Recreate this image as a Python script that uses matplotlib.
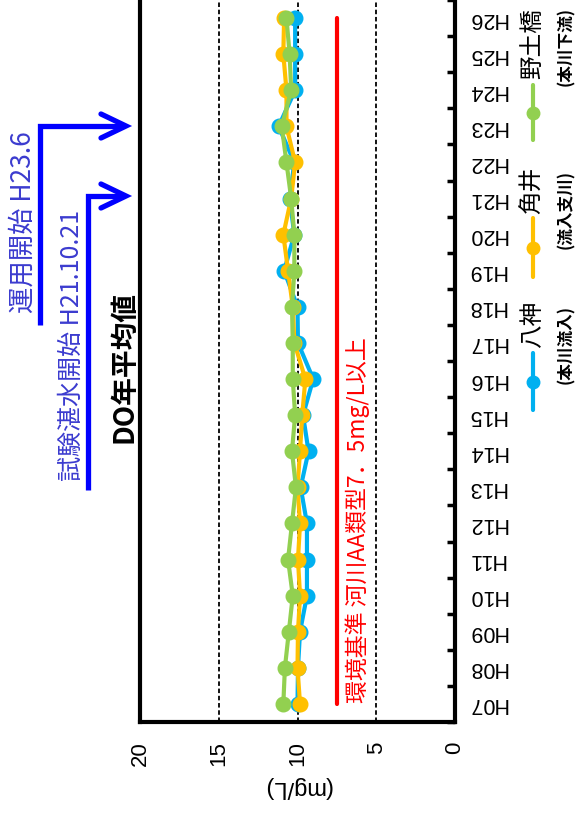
import matplotlib
matplotlib.use('Agg')
import matplotlib.pyplot as plt
import numpy as np

# DO annual averages (mg/L), H07 .. H26
years = ['H07', 'H08', 'H09', 'H10', 'H11', 'H12', 'H13', 'H14', 'H15', 'H16',
         'H17', 'H18', 'H19', 'H20', 'H21', 'H22', 'H23', 'H24', 'H25', 'H26']
hachigami = [10.0, 9.97, 9.84, 9.4, 9.4, 9.4, 9.8, 9.3, 9.65, 9.0,
             9.97, 10.0, 10.85, 10.2, 10.5, 10.2, 11.2, 10.15, 10.15, 10.15]
tsunoi = [9.84, 10.0, 9.97, 9.84, 9.97, 9.84, 10.0, 9.84, 9.7, 9.5,
          10.2, 10.3, 10.6, 10.9, 10.4, 10.15, 10.7, 10.7, 10.9, 10.85]
nodobashi = [10.9, 10.8, 10.55, 10.3, 10.6, 10.35, 10.1, 10.35, 10.15, 10.3,
             10.3, 10.35, 10.2, 10.2, 10.4, 10.7, 11.0, 10.4, 10.5, 10.7]
series_names = ['八神', '角井', '野土橋']
series_notes = ['(本川流入)', '(流入支川)', '(本川下流)']
colors = ['#00B0F0', '#FFC000', '#92D050']
standard = 7.5
grid_vals = [5, 10, 15]
xticks = [0, 5, 10, 15, 20]

CJK = ['Noto Sans CJK JP', 'DejaVu Sans']
NUM = ['Liberation Sans Narrow', 'Liberation Sans', 'DejaVu Sans']

W, H = 587, 817
fig = plt.figure(figsize=(W / 100, H / 100), dpi=100)
ax = fig.add_axes([140 / W, (H - 722) / H, 315 / W, 722 / H])

y = np.arange(len(years))

for v in grid_vals:
    ax.axvline(v, color='black', lw=1.3, ls=(0, (2.5, 1.5)), zorder=1)

for vals, c in zip([hachigami, tsunoi, nodobashi], colors):
    ax.plot(vals, y, '-o', color=c, lw=3, ms=10.5, zorder=3)

ax.plot(np.full(len(y), standard), y, color='red', lw=3,
        solid_capstyle='round', zorder=2)

ax.set_xlim(20, 0)
ax.set_ylim(-0.5, len(years) - 0.5)

ax.spines['top'].set_visible(False)
for s in ['left', 'right', 'bottom']:
    ax.spines[s].set_linewidth(3)

ax.yaxis.tick_right()
ax.set_yticks(y)
ax.set_yticklabels(years, family=NUM, fontsize=15.5, rotation=180, va='center')
ax.set_yticks(np.arange(len(years) + 1) - 0.5, minor=True)
ax.tick_params(axis='y', which='major', length=0, pad=9)
ax.tick_params(axis='y', which='minor', direction='in', length=6, width=2.5)

ax.set_xticks(xticks)
ax.set_xticklabels([str(t) for t in xticks], family=NUM, fontsize=16, rotation=90)
ax.tick_params(axis='x', length=0, pad=14)
ax.set_xlabel('(mg/L)', family=NUM, fontsize=17, rotation=180, labelpad=7)

# overlay in pixel coordinates for annotations and rotated legend
ov = fig.add_axes([0, 0, 1, 1])
ov.set_xlim(0, W)
ov.set_ylim(H, 0)
ov.axis('off')
ov.patch.set_visible(False)

blue = '#0000FF'
ov.plot([88, 88, 121], [490, 196, 196], color=blue, lw=3.8,
        solid_joinstyle='miter', solid_capstyle='butt')
ov.plot([101, 126, 101], [184, 196, 208], color=blue, lw=3.8,
        solid_joinstyle='miter', solid_capstyle='round')
ov.plot([40, 40, 121], [325, 126, 126], color=blue, lw=3.8,
        solid_joinstyle='miter', solid_capstyle='butt')
ov.plot([101, 126, 101], [114, 126, 138], color=blue, lw=3.8,
        solid_joinstyle='miter', solid_capstyle='round')

ov.text(72, 481, '試験湛水開始 H21.10.21', rotation=90, ha='center', va='bottom',
        color='#3B3BCF', fontsize=18, family=CJK)
ov.text(23, 313, '運用開始 H23.6', rotation=90, ha='center', va='bottom',
        color='#3B3BCF', fontsize=19, family=CJK)
ov.text(124, 367, 'DO年平均値', rotation=90, ha='center', va='center',
        color='black', fontsize=20, fontweight='bold', family=CJK)
ov.text(358, 703, '環境基準 河川AA類型7．5mg/L以上', rotation=90, ha='center',
        va='bottom', color='red', fontsize=16.5, family=CJK)

# legend
leg_line = [(353, 410), (218, 277), (85, 140)]
leg_text_bottom = [348, 214, 79]
leg_note_bottom = [384, 249, 86]
for (y0, y1), tb, nb, name, note, c in zip(leg_line, leg_text_bottom, leg_note_bottom,
                                           series_names, series_notes, colors):
    ov.plot([533, 533], [y0, y1], color=c, lw=3, solid_capstyle='round')
    ov.plot([533], [(y0 + y1) / 2], 'o', color=c, ms=9)
    ov.text(533, tb, name, rotation=90, ha='center', va='bottom',
            fontsize=17, family=CJK)
    ov.text(566, nb, note, rotation=90, ha='center', va='bottom',
            fontsize=12, fontweight='bold', family=CJK)

fig.savefig('out.png', dpi=100)
